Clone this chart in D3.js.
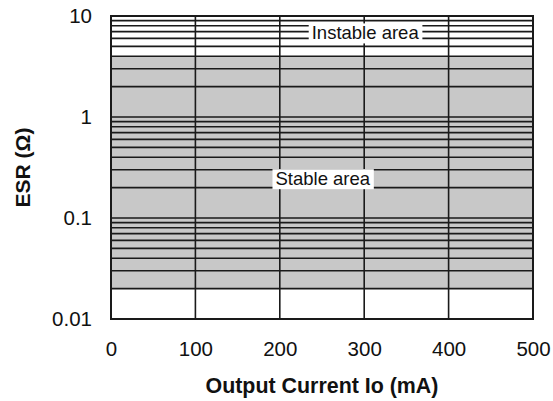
<!DOCTYPE html>
<html>
<head>
<meta charset="utf-8">
<script src="https://cdn.jsdelivr.net/npm/d3@7"></script>
<style>
  html, body { margin: 0; padding: 0; background: #fff; }
  svg { display: block; }
  text { font-family: "Liberation Sans", Arial, Helvetica, sans-serif; fill: #111; }
</style>
</head>
<body>
<svg id="chart" width="553" height="401"></svg>
<script>
// ---- data ----
const xTicks = [0, 100, 200, 300, 400, 500];
const yTicks = [0.01, 0.1, 1, 10];
const yTickLabels = ["0.01", "0.1", "1", "10"];
const stableRange = [0.02, 4];          // ESR range of the stable area
const decades = [0.01, 0.1, 1];
const multipliers = [1, 2, 3, 4, 5, 6, 7, 8, 9];
const regionLabels = ["Instable area", "Stable area"];
const regionLabelPos = [[300, 6.8], [200, 0.245]]; // [current mA, ESR] of label anchors
const xTitle = "Output Current Io (mA)";
const yTitle = "ESR (Ω)";

// ---- layout ----
const svg = d3.select("#chart");
const x = d3.scaleLinear().domain([0, 500]).range([111, 533]);
const y = d3.scaleLog().domain([0.01, 10]).range([319, 16]);
const lineColor = "#1a1a1a";

// gray stable region
svg.append("rect")
  .attr("x", x(0)).attr("width", x(500) - x(0))
  .attr("y", y(stableRange[1])).attr("height", y(stableRange[0]) - y(stableRange[1]))
  .attr("fill", "#c8c8c8");

// horizontal grid lines
const gridVals = [];
decades.forEach(d => multipliers.forEach(m => gridVals.push(+(d * m).toPrecision(3))));
gridVals.push(10);
svg.append("g").selectAll("line").data(gridVals).join("line")
  .attr("x1", x(0)).attr("x2", x(500))
  .attr("y1", d => y(d)).attr("y2", d => y(d))
  .attr("stroke", lineColor).attr("stroke-width", 1.6);

// vertical grid lines
svg.append("g").selectAll("line").data(xTicks).join("line")
  .attr("x1", d => x(d)).attr("x2", d => x(d))
  .attr("y1", y(10)).attr("y2", y(0.01))
  .attr("stroke", lineColor).attr("stroke-width", 1.6);

// frame
svg.append("rect")
  .attr("x", x(0)).attr("y", y(10))
  .attr("width", x(500) - x(0)).attr("height", y(0.01) - y(10))
  .attr("fill", "none").attr("stroke", lineColor).attr("stroke-width", 2);

// region labels with white backgrounds
regionLabels.forEach((lab, i) => {
  const g = svg.append("g");
  const t = g.append("text")
    .attr("x", x(regionLabelPos[i][0]) + (i === 0 ? 1 : 43))
    .attr("y", y(regionLabelPos[i][1]))
    .attr("text-anchor", "middle")
    .attr("dominant-baseline", "central")
    .style("font-size", "18.5px")
    .text(lab);
  const bb = t.node().getBBox();
  g.insert("rect", "text")
    .attr("x", bb.x - 3).attr("y", bb.y + 1)
    .attr("width", bb.width + 6).attr("height", bb.height - 1)
    .attr("fill", "#fff");
});

// x axis
const xAxis = svg.append("g")
  .attr("transform", `translate(0,${y(0.01)})`)
  .call(d3.axisBottom(x).tickValues(xTicks).tickSize(0).tickPadding(22).tickFormat(d3.format("d")));
xAxis.select(".domain").remove();
xAxis.selectAll("text").style("font-size", "20.5px").attr("fill", "#111")
  .style("font-family", '"Liberation Sans", Arial, sans-serif');

// y axis
const yAxis = svg.append("g")
  .attr("transform", `translate(${x(0)},0)`)
  .call(d3.axisLeft(y).tickValues(yTicks).tickSize(0).tickPadding(19)
    .tickFormat((d, i) => yTickLabels[i]));
yAxis.select(".domain").remove();
yAxis.selectAll("text").style("font-size", "20.5px").attr("fill", "#111")
  .style("font-family", '"Liberation Sans", Arial, sans-serif');

// axis titles
svg.append("text")
  .attr("x", (x(0) + x(500)) / 2).attr("y", 393)
  .attr("text-anchor", "middle")
  .style("font-size", "21.4px").style("font-weight", "bold")
  .text(xTitle);

svg.append("text")
  .attr("transform", `translate(30,${(y(10) + y(0.01)) / 2}) rotate(-90)`)
  .attr("text-anchor", "middle")
  .style("font-size", "21px").style("font-weight", "bold")
  .text(yTitle);
</script>
</body>
</html>
